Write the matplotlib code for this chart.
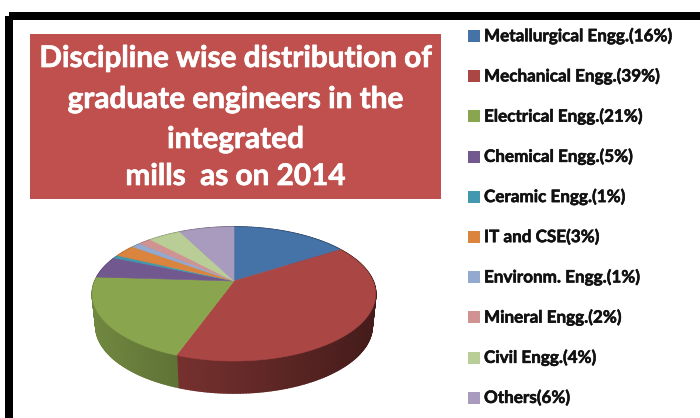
import numpy as np
import matplotlib
matplotlib.use("Agg")
from matplotlib import pyplot as plt, patheffects as pe
from matplotlib.collections import PolyCollection
from matplotlib.patches import Rectangle

# Legend text and slice sizes (slices, they differ a bit from the labels)
labels = ["Metallurgical Engg.(16%)", "Mechanical Engg.(39%)", "Electrical Engg.(21%)",
          "Chemical Engg.(5%)", "Ceramic Engg.(1%)", "IT and CSE(3%)",
          "Environm. Engg.(1%)", "Mineral Engg.(2%)", "Civil Engg.(4%)", "Others(6%)"]
shares = [16, 39.5, 20.5, 5.25, 0.75, 3, 1.25, 1.75, 4.5, 7.5]
colors = ["#4572A7", "#AA4643", "#89A54E", "#71588F", "#4198AF",
          "#DB843D", "#93A9CF", "#D19392", "#B9CD96", "#A99BBD"]
title_lines = ["Discipline wise distribution of", "graduate engineers in the", "integrated", "mills  as on 2014"]

plt.rcParams["font.family"] = ["Lato", "DejaVu Sans"]

fig = plt.figure(figsize=(7, 4.18), dpi=100)
ax = fig.add_axes([0, 0, 1, 1])
ax.set_xlim(0, 700)
ax.set_ylim(418, 0)
ax.axis("off")

# Black frame, runs off the right and bottom of the picture
ax.add_patch(Rectangle((9, 16), 694, 414, fill=False, edgecolor="black", linewidth=5.76, joinstyle="round"))

# Title box
ax.add_patch(Rectangle((30, 34), 411, 165, facecolor="#C0504D", edgecolor="none"))
for line, y in zip(title_lines, [58, 99, 139, 176]):
    ax.text(235.5, y, line, color="white", fontsize=21.4, fontweight="bold", ha="center", va="center",
            path_effects=[pe.withStroke(linewidth=0.5, foreground="white")])

# Legend
for i, (label, color) in enumerate(zip(labels, colors)):
    y = 36 + i * 40.2
    ax.add_patch(Rectangle((468, y - 6), 12, 12, facecolor=color, edgecolor="none"))
    ax.text(484, y, label, fontsize=12.3, fontweight="bold", color="#111111", ha="left", va="center",
            path_effects=[pe.withStroke(linewidth=0.4, foreground="#111111")])

# Pie in perspective: a circle seen from above, the back shrinks and the front grows
cx, cy = 234, 281
a, b, p = 139, 64.5, 0.194
depth = 32


def project(phi, scale=1.0, dy=0.0):
    w = 1 + p * np.sin(phi)
    return cx + scale * a * np.cos(phi) / w, cy + dy - b * np.sin(phi) / w


edges = np.cumsum([0] + shares) / np.sum(shares)
angles = np.pi / 2 - 2 * np.pi * edges  # clockwise from the top

# Side of the pie, small quads so that the shade can change along the rim
quads = []
quad_colors = []
for i, color in enumerate(colors):
    rgb = np.array(matplotlib.colors.to_rgb(color))
    steps = max(int(abs(angles[i + 1] - angles[i]) * 60), 2)
    t = np.linspace(angles[i], angles[i + 1], steps + 1)
    for t0, t1 in zip(t[:-1], t[1:]):
        x0, y0 = project(t0)
        x1, y1 = project(t1)
        x2, y2 = project(t1, 0.975, depth)
        x3, y3 = project(t0, 0.975, depth)
        quads.append([(x0, y0), (x1, y1), (x2, y2), (x3, y3)])
        pos = ((x0 + x1) / 2 - 92) / 285
        quad_colors.append(rgb * (0.82 - 0.42 * pos))
ax.add_collection(PolyCollection(quads, facecolors=quad_colors, edgecolors=quad_colors, linewidths=1.2))

# Top of the pie
faces = []
for i in range(len(shares)):
    t = np.linspace(angles[i], angles[i + 1], 80)
    x, y = project(t)
    faces.append(np.vstack([[cx, cy], np.column_stack([x, y])]))
ax.add_collection(PolyCollection(faces, facecolors=colors, edgecolors=colors, linewidths=0.4))

fig.savefig("out.png", dpi=100)
